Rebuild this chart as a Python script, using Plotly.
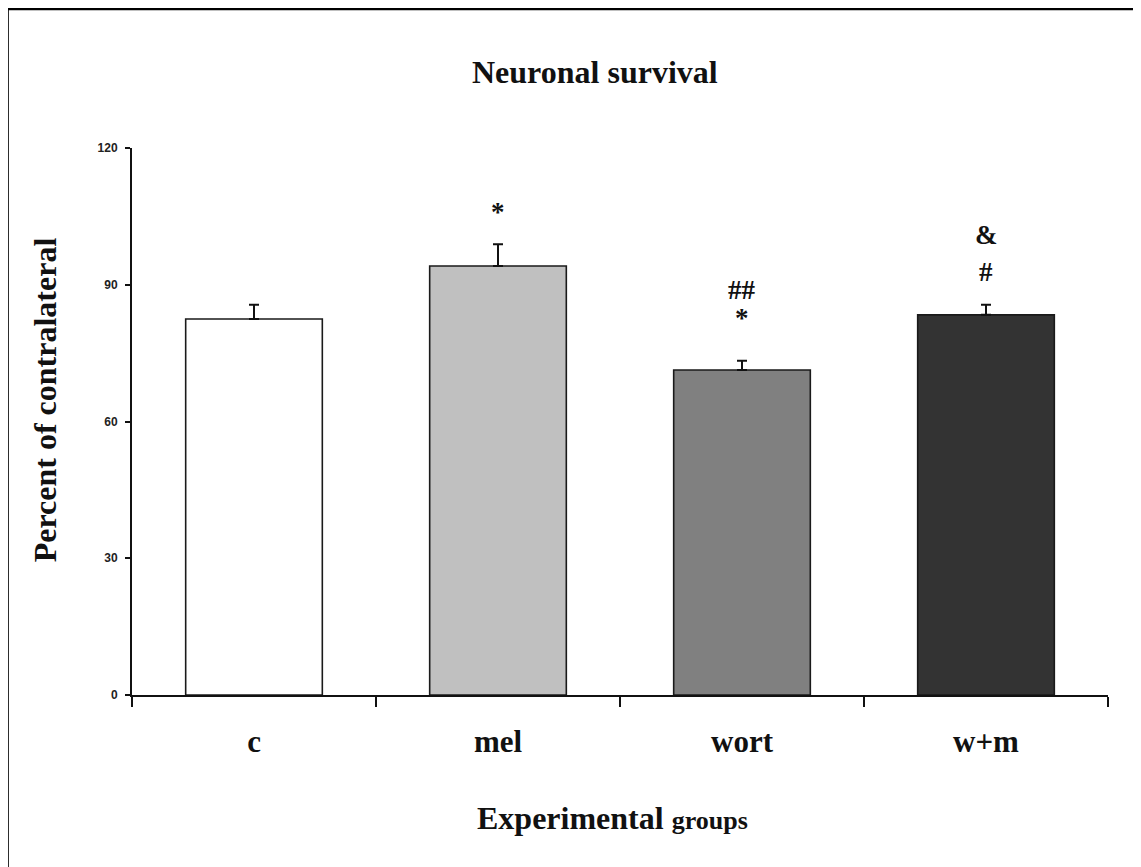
import plotly.graph_objects as go

categories = ["c", "mel", "wort", "w+m"]
values = [82.5, 94.1, 71.3, 83.4]
errors = [3.1, 4.8, 2.0, 2.2]
colors = ["#ffffff", "#c0c0c0", "#808080", "#333333"]
marks = [[], ["*"], ["*", "##"], ["#", "&"]]
y_ticks = [0, 30, 60, 90, 120]

SERIF = "Liberation Serif, Times New Roman, serif"
SANS = "Liberation Sans, Arial, sans-serif"

fig = go.Figure()
fig.add_trace(go.Bar(
    x=categories, y=values,
    marker=dict(color=colors, line=dict(color="#1a1a1a", width=1.6)),
    error_y=dict(type="data", symmetric=False, array=errors,
                 arrayminus=[0] * len(errors), color="#111", thickness=2, width=5),
    width=0.56, showlegend=False, hoverinfo="skip",
))

annotations = []
offsets = [[], [32], [43, 71], [33, 70]]
for i, (cat, v, e, ms) in enumerate(zip(categories, values, errors, marks)):
    for j, m in enumerate(ms):
        annotations.append(dict(
            x=cat, y=v + e, xref="x", yref="y", text="<b>%s</b>" % m,
            showarrow=False, yanchor="middle", yshift=offsets[i][j],
            font=dict(family=SERIF, size=27, color="#111"),
        ))

annotations.append(dict(
    x=0.474, y=1.139, xref="paper", yref="paper", text="<b>Neuronal survival</b>",
    showarrow=False, xanchor="center", yanchor="middle",
    font=dict(family=SERIF, size=32, color="#111"),
))
annotations.append(dict(
    x=0.492, y=-0.225, xref="paper", yref="paper",
    text="<b>Experimental</b> <b><span style='font-size:26px'>groups</span></b>",
    showarrow=False, xanchor="center", yanchor="middle",
    font=dict(family=SERIF, size=32, color="#111"),
))
annotations.append(dict(
    x=-0.089, y=0.539, xref="paper", yref="paper", text="<b>Percent of contralateral</b>",
    showarrow=False, xanchor="center", yanchor="middle", textangle=-90,
    font=dict(family=SERIF, size=32, color="#111"),
))

fig.update_layout(
    width=1133, height=859,
    margin=dict(l=124, r=33, t=140, b=172),
    paper_bgcolor="white", plot_bgcolor="white",
    bargap=0.44,
    annotations=annotations,
    shapes=[dict(type="path", xref="paper", yref="paper",
                 path="M -0.128,-0.4 L -0.128,1.255 L 1.2,1.255",
                 line=dict(color="black", width=3.5))],
)
fig.update_xaxes(
    range=[-0.5, 3.5], showline=True, linecolor="#111", linewidth=2,
    ticks="outside", tickson="boundaries", ticklen=10, tickwidth=2, tickcolor="#111",
    tickfont=dict(family=SERIF, size=31, color="#111"),
    ticklabelstandoff=18, showgrid=False, zeroline=False, fixedrange=True,
    tickvals=categories, ticktext=["<b>%s</b>" % c for c in categories],
)
fig.update_yaxes(
    range=[0, 120], tickvals=y_ticks, ticktext=["<b>%d</b>" % t for t in y_ticks],
    showline=True, linecolor="#111", linewidth=2,
    ticks="outside", ticklen=5, tickwidth=2, tickcolor="#111",
    tickfont=dict(family=SANS, size=12, color="#222"),
    ticklabelstandoff=5,
    showgrid=False, zeroline=False, fixedrange=True,
)

fig.write_html("out.html")
